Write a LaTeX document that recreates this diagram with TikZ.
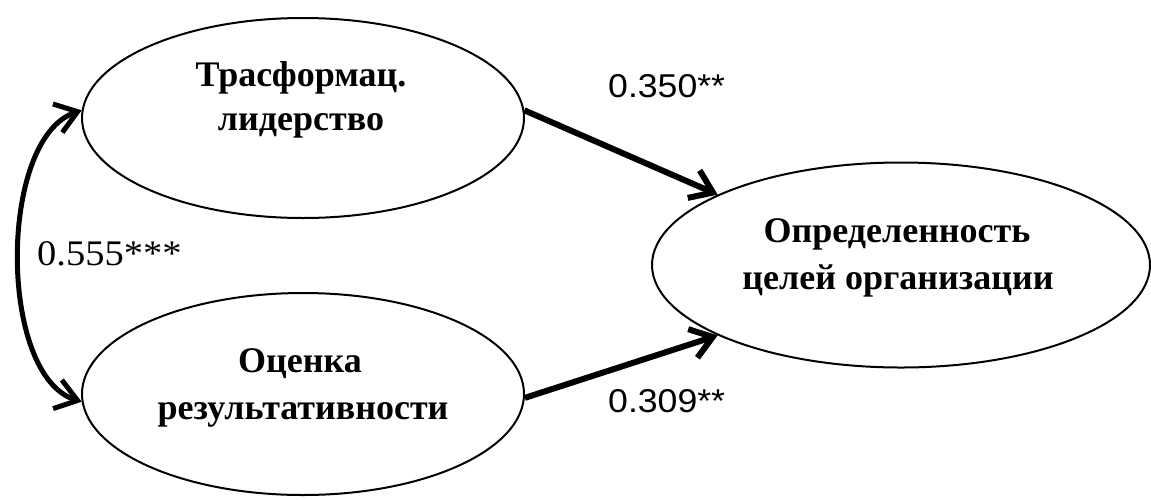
\documentclass[tikz,border=0pt]{standalone}
\usepackage{fontspec}
\setmainfont{Liberation Serif}
\newfontfamily\lsans{Liberation Sans}
\usetikzlibrary{arrows.meta,shapes.geometric}
\tikzset{
  oval/.style={draw, ellipse, line width=2pt, inner sep=0pt},
  ovtext/.style={font=\fontsize{36}{36}\selectfont\bfseries, inner sep=0pt, anchor=base},
  coef/.style={font=\lsans\fontsize{33}{33}\selectfont, inner sep=0pt, anchor=base west},
  coefserif/.style={font=\fontsize{36}{36}\selectfont, inner sep=0pt, anchor=base west},
  barb/.tip={Straight Barb[length=21pt,width=30pt]},
  path/.style={line width=6pt, -barb},
  corr/.style={line width=5pt, barb-barb},
}
\newcommand{\hstretch}[2]{\scalebox{#1}[1]{#2}}
\begin{document}
\begin{tikzpicture}[x=1pt,y=-1pt]
\useasboundingbox (0,0) rectangle (1151,499);
\node[oval, minimum width=442pt, minimum height=200pt] (tl) at (303,118) {};
\node[oval, minimum width=442pt, minimum height=202pt] (bl) at (303,394) {};
\node[oval, minimum width=498pt, minimum height=205pt] (r) at (901,265) {};

\node[ovtext] (tl1) at (301,86) {Трасформац.};
\node[ovtext] (tl2) at (301,130) {лидерство};
\node[ovtext] (bl1) at (300,372) {Оценка};
\node[ovtext] (bl2) at (303,419) {результативности};
\node[ovtext] (r1) at (897,242) {Определенность};
\node[ovtext] (r2) at (898,289) {целей организации};

\draw[path] (tl.2) -- (r.159);
\draw[path] (bl.-1) -- (r.201);
\draw[corr] (tl.178) .. controls (-2,138) and (-2,376) .. (bl.182);

\node[coef] (c1) at (608,97) {\hstretch{1.08}{0.350**}};
\node[coef] (c2) at (608,412) {\hstretch{1.08}{0.309**}};
\node[coefserif] (c3) at (37,265) {\hstretch{1.07}{0.555***}};
\end{tikzpicture}
\end{document}
